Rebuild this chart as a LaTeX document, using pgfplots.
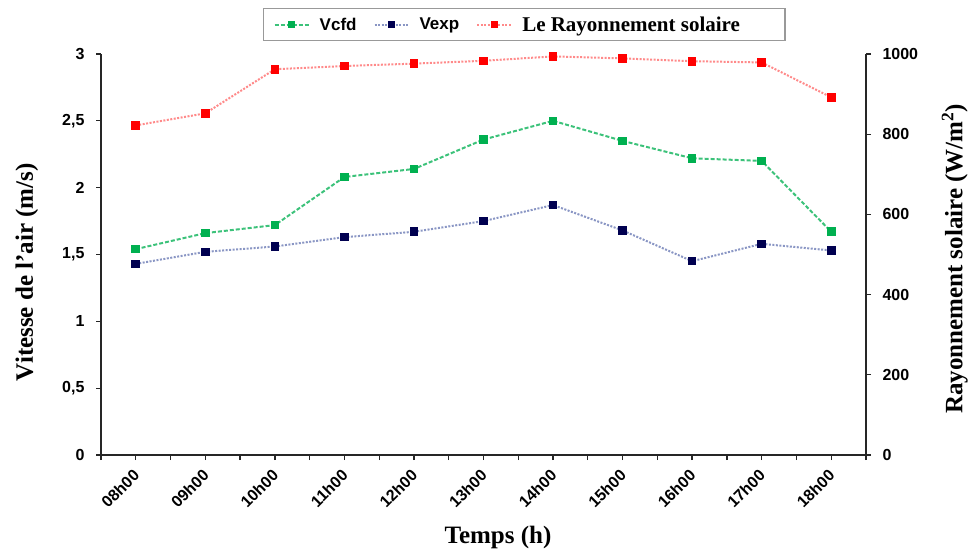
\documentclass[border=0pt]{standalone}
\usepackage{pgfplots}
\pgfplotsset{compat=1.18}
\usepackage{pgfplotstable}
\usepackage{fontspec}
\setmainfont{Liberation Serif}
\newfontfamily\arial{Liberation Sans}

\definecolor{cfdmark}{HTML}{00B050}
\definecolor{cfdline}{HTML}{3CC27A}
\definecolor{expmark}{HTML}{000050}
\definecolor{expline}{HTML}{8A96C4}
\definecolor{raymark}{HTML}{FF0000}
\definecolor{rayline}{HTML}{FF8A8A}

% hourly measurements, 08h00 .. 18h00
\pgfplotstableread{
i vcfd vexp ray
0  1.54 1.43 822
1  1.66 1.52 852
2  1.72 1.56 962
3  2.08 1.63 970
4  2.14 1.67 976
5  2.36 1.75 983
6  2.50 1.87 994
7  2.35 1.68 989
8  2.22 1.45 982
9  2.20 1.58 979
10 1.67 1.53 892
}\data

\newcommand{\tickfont}{\arial\bfseries\fontsize{16}{16}\selectfont}
\newcommand{\labfont}{\bfseries\fontsize{25}{28}\selectfont}

\pgfplotsset{
  common/.style={
    at={(0,0)}, anchor=south west,
    scale only axis, width=765pt, height=401pt,
    xmin=-0.5, xmax=10.5,
    axis line style={line width=1.8pt, black!85},
    tick style={line width=1.3pt, black!85},
    tick align=outside, major tick length=5pt, minor tick length=5pt,
    clip=false,
  },
  cfd/.style={color=cfdline, line width=2pt, dash pattern=on 4pt off 2pt,
    mark=square*, mark size=3.3pt, mark options={solid, fill=cfdmark, draw=cfdmark}},
  exp/.style={color=expline, line width=2pt, dash pattern=on 2pt off 1.5pt,
    mark=square*, mark size=3.3pt, mark options={solid, fill=expmark, draw=expmark}},
  ray/.style={color=rayline, line width=2pt, dash pattern=on 2pt off 1.5pt,
    mark=square*, mark size=3.3pt, mark options={solid, fill=raymark, draw=raymark}},
}

\begin{document}
\begin{tikzpicture}
% air speed, left axis
\begin{axis}[
  common,
  ymin=0, ymax=3,
  axis x line*=bottom, axis y line*=left,
  xtick={0,...,10},
  minor xtick={-0.5,0.5,...,10.5},
  xticklabels={08h00,09h00,10h00,11h00,12h00,13h00,14h00,15h00,16h00,17h00,18h00},
  x tick label style={xshift=3pt, yshift=-10pt, rotate=45, anchor=east, font=\tickfont},
  ytick={0,0.5,...,3},
  yticklabels={0,{0,5},1,{1,5},2,{2,5},3},
  y tick label style={font=\tickfont, anchor=east, xshift=-8pt},
  xlabel={Temps (h)},
  ylabel={Vitesse de l’air (m/s)},
  every axis x label/.style={at={(axis description cs:0.519,-0.205)}, anchor=center, font=\labfont},
  every axis y label/.style={at={(axis description cs:-0.097,0.456)}, rotate=90, anchor=center, font=\labfont},
]
\addplot[cfd] table[x=i, y=vcfd] {\data};
\addplot[exp] table[x=i, y=vexp] {\data};
\end{axis}

% solar radiation, right axis
\begin{axis}[
  common,
  ymin=0, ymax=1000,
  axis x line=none, axis y line*=right,
  ytick={0,200,...,1000},
  yticklabels={0,200,400,600,800,1000},
  y tick label style={font=\tickfont, anchor=west, xshift=8pt},
  ylabel={Rayonnement solaire (W/m$^{\mathbf{2}}$)},
  every axis y label/.style={at={(axis description cs:1.116,0.489)}, rotate=90, anchor=center, font=\labfont},
  legend columns=3,
  legend style={
    at={(axis description cs:0.2118,1.1147)}, anchor=north west,
    draw=black!40, line width=1.4pt, fill=white,
    inner xsep=10pt, inner ysep=6pt,
    font=\bfseries\fontsize{17}{20}\selectfont,
    /tikz/every odd column/.append style={column sep=8pt},
    /tikz/every even column/.append style={column sep=15pt},
    nodes={inner sep=2pt},
  },
  legend image code/.code={
    \draw[#1, mark repeat=2, mark phase=2, mark size=2.6pt] plot coordinates {(0pt,0pt) (17pt,0pt) (34pt,0pt)};
  },
]
\addlegendimage{cfd}
\addlegendentry{\arial\bfseries Vcfd}
\addlegendimage{exp}
\addlegendentry{\arial\bfseries Vexp}
\addplot[ray] table[x=i, y=ray] {\data};
\addlegendentry{\fontsize{21}{24}\selectfont Le Rayonnement solaire\rule{33pt}{0pt}}
\end{axis}

\pgfresetboundingbox
\path[use as bounding box] (-101pt,-100pt) rectangle (871pt,455pt);
\end{tikzpicture}
\end{document}
